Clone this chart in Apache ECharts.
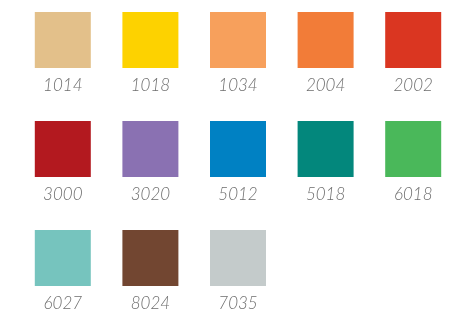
<!DOCTYPE html>
<html>
<head>
<meta charset="utf-8">
<script src="https://cdn.jsdelivr.net/npm/echarts@6/dist/echarts.min.js"></script>
<style>
  html, body { margin: 0; padding: 0; background: #fff; }
  #main { width: 462px; height: 312px; }
</style>
</head>
<body>
<div id="main"></div>
<script>
// RAL codes and their swatch colours, read row by row
const codes = ['1014', '1018', '1034', '2004', '2002',
               '3000', '3020', '5012', '5018', '6018',
               '6027', '8024', '7035'];
const colors = ['#E3C08A', '#FDD200', '#F7A05C', '#F27C38', '#DA3621',
                '#B3191F', '#8A71B2', '#0081C3', '#03877C', '#4AB85A',
                '#76C4BE', '#724631', '#C4CBCB'];
const cols = [0, 1, 2, 3, 4, 0, 1, 2, 3, 4, 0, 1, 2];
const rows = [0, 0, 0, 0, 0, 1, 1, 1, 1, 1, 2, 2, 2];
const colNames = ['0', '1', '2', '3', '4'];

const swatches = codes.map((c, i) => ({
  value: [colNames[cols[i]], rows[i]],
  name: c,
  itemStyle: {color: colors[i], opacity: 1}
}));

const chart = echarts.init(document.getElementById('main'));
chart.setOption({
  animation: false,
  grid: {left: 19, right: 5, top: 40, bottom: 54},
  xAxis: {
    type: 'category',
    data: colNames,
    show: false
  },
  yAxis: {
    type: 'value',
    min: 0,
    max: 2,
    inverse: true,
    show: false
  },
  series: [
    {
      type: 'scatter',
      symbol: 'rect',
      symbolSize: 56,
      data: swatches,
      label: {
        show: true,
        position: 'bottom',
        distance: 9,
        formatter: p => p.name,
        fontFamily: 'Lato',
        fontStyle: 'italic',
        fontWeight: 300,
        fontSize: 17,
        color: '#6e6e6e'
      }
    }
  ]
});
</script>
</body>
</html>
